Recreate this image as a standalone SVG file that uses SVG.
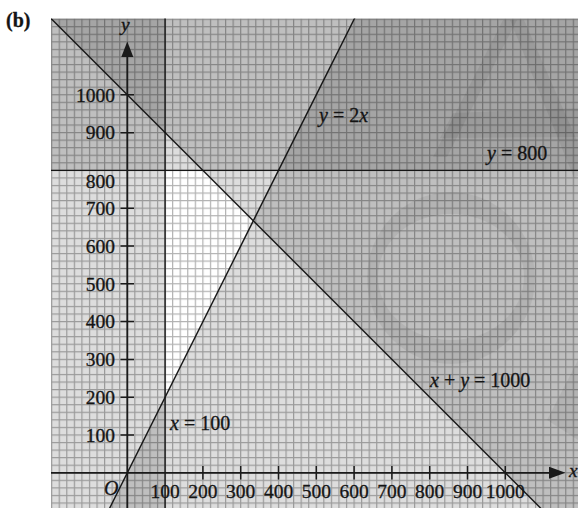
<svg xmlns="http://www.w3.org/2000/svg" width="578" height="508" viewBox="0 0 578 508">
<style>
.t{font-family:"Liberation Serif","Times New Roman",serif;font-size:19.5px;fill:#141414;stroke:#141414;stroke-width:0.3}
.l{font-family:"Liberation Serif","Times New Roman",serif;font-size:20px;fill:#141414;stroke:#141414;stroke-width:0.3}
.i{font-style:italic}
.b{font-weight:bold;font-size:20px}
.con{stroke:#151515;stroke-width:1.4;fill:none}
.ax{stroke:#1a1a1a;stroke-width:1.8;fill:none}
.tk{stroke:#1a1a1a;stroke-width:1.5;fill:none}
.sh{fill:#000;fill-opacity:0.135}
.wm{fill:#000;fill-opacity:0.06}
</style>
<defs>
<clipPath id="plot"><rect x="51" y="18.6" width="527" height="489.4"/></clipPath>
<pattern id="gridpat" patternUnits="userSpaceOnUse" x="51.1" y="18.6" width="7.56" height="7.56">
<path d="M0 0H7.56V1.2H0Z M0 0H1.2V7.56H0Z" fill="#000" fill-opacity="0.3"/>
</pattern>
</defs>
<rect width="578" height="508" fill="#fff"/>
<g id="regions" clip-path="url(#plot)">
<rect x="51" y="18.6" width="527" height="489.4" fill="#fff"/>
<rect class="sh" x="0" y="0" width="165.1" height="508"/>
<rect class="sh" x="0" y="0" width="578" height="170.4"/>
<polygon class="sh" points="-23.9,-56.4 618.7,586.2 700,586 700,-60"/>
<polygon class="sh" points="89.5,548.4 391.9,-56.4 700,-60 700,560"/>
</g>
<g id="watermark" clip-path="url(#plot)">
<path class="wm" fill-rule="evenodd" d="M367 278a84 86 0 1 0 168 0a84 86 0 1 0 -168 0Z M378 277a73 63 0 1 0 146 0a73 63 0 1 0 -146 0Z"/>
<polygon class="wm" points="503,20 517,20 447,157 433,157"/>
<polygon class="wm" points="510,20 524,20 590,170 574,178"/>
<polygon class="wm" points="453,113 578,108 578,137 440,138"/>
<polygon class="wm" points="578,360 547,420 578,440"/>
</g>
<g id="grid" clip-path="url(#plot)">
<rect x="51" y="18.6" width="527" height="489.4" fill="url(#gridpat)"/>
</g>
<g id="connectors" clip-path="url(#plot)">
<line id="line-x100" class="con" x1="165.1" y1="18" x2="165.1" y2="508"/>
<line id="line-y800" class="con" x1="51" y1="170.4" x2="578" y2="170.4"/>
<line id="line-sum" class="con" x1="13.9" y1="-18.6" x2="580.9" y2="548.4"/>
<line id="line-y2x" class="con" x1="89.5" y1="548.4" x2="391.9" y2="-56.4"/>
</g>
<g id="axes">
<line class="ax" x1="51" y1="472.8" x2="552" y2="472.8"/>
<polygon points="549,466.8 565.5,472.8 549,478.8" fill="#1a1a1a"/>
<line class="ax" x1="127.3" y1="508" x2="127.3" y2="54"/>
<polygon points="121.3,57 127.3,41.5 133.3,57" fill="#1a1a1a"/>
<path class="tk" d="M120.5 435H134M120.5 397.2H134M120.5 359.4H134M120.5 321.6H134M120.5 283.8H134M120.5 246H134M120.5 208.2H134M120.5 132.7H134M120.5 94.8H134"/>
<path class="tk" d="M202.9 466V479.5M240.7 466V479.5M278.5 466V479.5M316.3 466V479.5M354.1 466V479.5M391.9 466V479.5M429.7 466V479.5M467.5 466V479.5M505.3 466V479.5"/>
</g>
<g id="labels">
<text class="t b" x="6" y="27">(b)</text>
<text class="t i" x="121" y="31">y</text>
<text class="t i" x="569" y="477">x</text>
<text class="t i" x="104" y="495" style="font-size:20px">O</text>
<g text-anchor="end">
<text class="t" x="115" y="441.7">100</text>
<text class="t" x="115" y="403.9">200</text>
<text class="t" x="115" y="366.1">300</text>
<text class="t" x="115" y="328.3">400</text>
<text class="t" x="115" y="290.5">500</text>
<text class="t" x="115" y="252.7">600</text>
<text class="t" x="115" y="214.9">700</text>
<text class="t" x="115" y="188.3">800</text>
<text class="t" x="115" y="139.4">900</text>
<text class="t" x="115" y="101.5">1000</text>
</g>
<g text-anchor="middle">
<text class="t" x="165.1" y="498">100</text>
<text class="t" x="202.9" y="498">200</text>
<text class="t" x="240.7" y="498">300</text>
<text class="t" x="278.5" y="498">400</text>
<text class="t" x="316.3" y="498">500</text>
<text class="t" x="354.1" y="498">600</text>
<text class="t" x="391.9" y="498">700</text>
<text class="t" x="429.7" y="498">800</text>
<text class="t" x="467.5" y="498">900</text>
<text class="t" x="505.3" y="498">1000</text>
</g>
<text class="l" x="319" y="122"><tspan class="i">y</tspan> = 2<tspan class="i">x</tspan></text>
<text class="l" x="487" y="160"><tspan class="i">y</tspan> = 800</text>
<text class="l" x="430" y="387"><tspan class="i">x</tspan> + <tspan class="i">y</tspan> = 1000</text>
<text class="l" x="170" y="430"><tspan class="i">x</tspan> = 100</text>
</g>
</svg>
